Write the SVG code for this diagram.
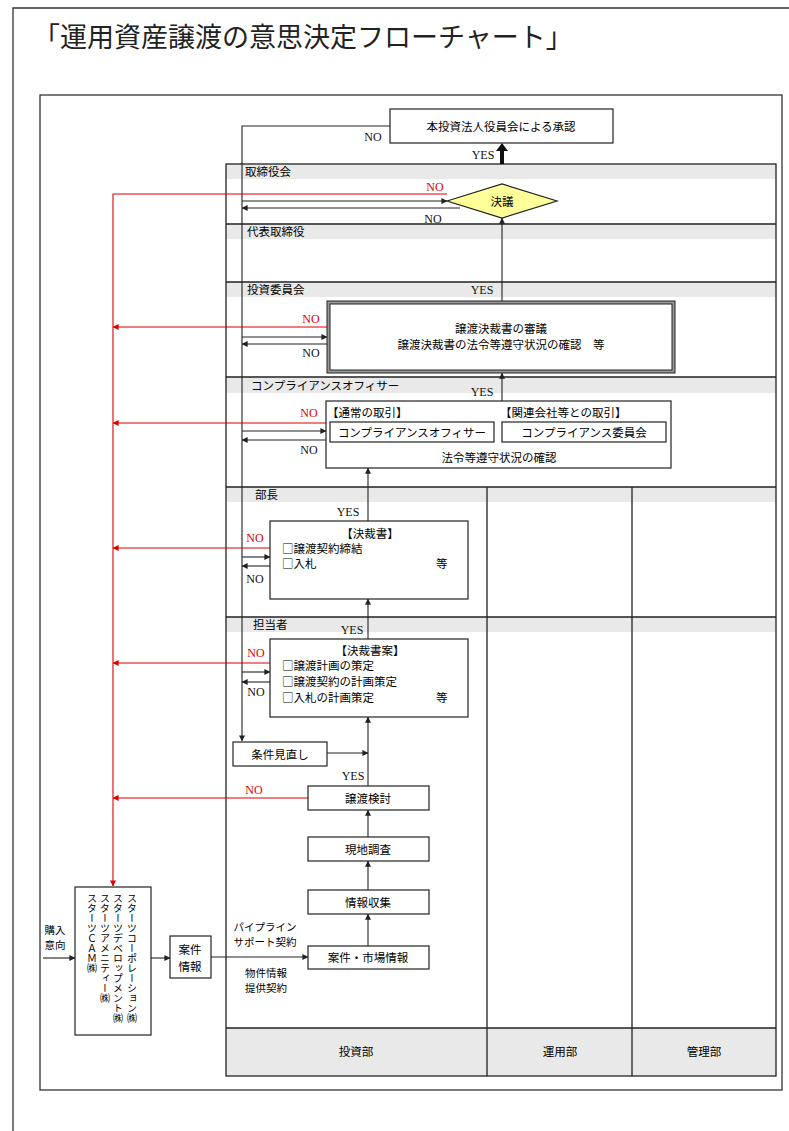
<svg xmlns="http://www.w3.org/2000/svg" width="789" height="1131" viewBox="0 0 789 1131">
<style>
.bg{fill:#fff}
.frame{fill:none;stroke:#333;stroke-width:1.3}
.band{fill:#e9e9e9}
.grid{fill:none;stroke:#222;stroke-width:1.3}
.node{fill:#fff;stroke:#222;stroke-width:1.2}
.t{font-family:"Noto Sans CJK JP","Noto Sans",sans-serif;font-size:11.5px;fill:#000}
.s{font-size:10.5px}
.c{text-anchor:middle;dominant-baseline:central}
.yn{font-family:"Liberation Serif",serif;font-size:12px;fill:#111;text-anchor:middle;dominant-baseline:central}
.rn{fill:#e00000}
.ln{fill:none;stroke:#222;stroke-width:1.1}
.red{fill:none;stroke:#e00000;stroke-width:1.1}
.vt{font-family:"Noto Sans CJK JP",sans-serif;font-size:10px;fill:#000;writing-mode:vertical-rl}
</style>
<defs>
<marker id="ab" viewBox="0 0 8 8" refX="7.5" refY="4" markerWidth="6" markerHeight="6" markerUnits="userSpaceOnUse" orient="auto"><path d="M0,0 L8,4 L0,8 z" fill="#222"/></marker>
<marker id="ar" viewBox="0 0 8 8" refX="7.5" refY="4" markerWidth="6" markerHeight="6" markerUnits="userSpaceOnUse" orient="auto"><path d="M0,0 L8,4 L0,8 z" fill="#e00000"/></marker>
</defs>
<rect class="bg" x="0" y="0" width="789" height="1131"/>
<!-- page frame -->
<path class="frame" d="M13,1131 V8 H789"/>
<text x="33" y="47" style="font-family:'Noto Sans CJK JP',sans-serif;font-size:27px;fill:#222">「運用資産譲渡の意思決定フローチャート」</text>
<rect class="frame" x="40" y="95" width="742" height="995"/>

<!-- swimlane table -->
<g id="lanes">
<rect class="band" x="226" y="164" width="550" height="15"/>
<rect class="band" x="226" y="224" width="550" height="15"/>
<rect class="band" x="226" y="282" width="550" height="15"/>
<rect class="band" x="226" y="377" width="550" height="16"/>
<rect class="band" x="226" y="487" width="550" height="15"/>
<rect class="band" x="226" y="617" width="550" height="15"/>
<rect class="band" x="226" y="1028" width="550" height="48"/>
<rect class="grid" x="226" y="164" width="550" height="912"/>
<path class="grid" d="M226,224 H776 M226,282 H776 M226,377 H776 M226,487 H776 M226,617 H776 M226,1028 H776 M487,487 V1076 M632,487 V1076"/>
<text class="t" x="245" y="176">取締役会</text>
<text class="t" x="247" y="236">代表取締役</text>
<text class="t" x="247" y="294">投資委員会</text>
<text class="t" x="251" y="390">コンプライアンスオフィサー</text>
<text class="t" x="255" y="499">部長</text>
<text class="t" x="253" y="629">担当者</text>
<text class="t c" x="356" y="1051">投資部</text>
<text class="t c" x="560" y="1051">運用部</text>
<text class="t c" x="704" y="1051">管理部</text>
</g>

<!-- connectors -->
<g id="connectors">
<polyline class="ln" points="390,126 242,126 242,741" marker-end="url(#ab)"/>
<polygon points="500,164 504,164 504,151 508,151 502,143 496,151 500,151" fill="#111"/>
<line class="ln" x1="242" y1="201" x2="447" y2="201" marker-end="url(#ab)"/>
<line class="ln" x1="460" y1="208" x2="242" y2="208" marker-end="url(#ab)"/>
<line class="ln" x1="502" y1="301" x2="502" y2="218" marker-end="url(#ab)"/>
<line class="ln" x1="242" y1="337" x2="327" y2="337" marker-end="url(#ab)"/>
<line class="ln" x1="327" y1="344" x2="242" y2="344" marker-end="url(#ab)"/>
<line class="ln" x1="502" y1="401" x2="502" y2="373" marker-end="url(#ab)"/>
<line class="ln" x1="242" y1="431" x2="326" y2="431" marker-end="url(#ab)"/>
<line class="ln" x1="326" y1="440" x2="242" y2="440" marker-end="url(#ab)"/>
<line class="ln" x1="368" y1="521" x2="368" y2="468" marker-end="url(#ab)"/>
<line class="ln" x1="242" y1="557" x2="270" y2="557" marker-end="url(#ab)"/>
<line class="ln" x1="270" y1="566" x2="242" y2="566" marker-end="url(#ab)"/>
<line class="ln" x1="368" y1="639" x2="368" y2="599" marker-end="url(#ab)"/>
<line class="ln" x1="242" y1="672" x2="270" y2="672" marker-end="url(#ab)"/>
<line class="ln" x1="270" y1="682" x2="242" y2="682" marker-end="url(#ab)"/>
<line class="ln" x1="368" y1="786" x2="368" y2="717" marker-end="url(#ab)"/>
<line class="ln" x1="327" y1="753" x2="368" y2="753" marker-end="url(#ab)"/>
<line class="ln" x1="368" y1="837" x2="368" y2="810" marker-end="url(#ab)"/>
<line class="ln" x1="368" y1="890" x2="368" y2="861" marker-end="url(#ab)"/>
<line class="ln" x1="368" y1="946" x2="368" y2="914" marker-end="url(#ab)"/>
<line class="ln" x1="211" y1="957" x2="308" y2="957" marker-end="url(#ab)"/>
<line class="ln" x1="151" y1="958" x2="170" y2="958" marker-end="url(#ab)"/>
<line class="ln" x1="43" y1="958" x2="75" y2="958" marker-end="url(#ab)"/>
<polyline class="red" points="447,194 113,194 113,886" marker-end="url(#ar)"/>
<line class="red" x1="327" y1="327" x2="113" y2="327" marker-end="url(#ar)"/>
<line class="red" x1="326" y1="423" x2="113" y2="423" marker-end="url(#ar)"/>
<line class="red" x1="270" y1="548" x2="113" y2="548" marker-end="url(#ar)"/>
<line class="red" x1="270" y1="663" x2="113" y2="663" marker-end="url(#ar)"/>
<line class="red" x1="308" y1="798" x2="113" y2="798" marker-end="url(#ar)"/>
<text class="yn" x="373" y="137">NO</text>
<text class="yn" x="483" y="155">YES</text>
<text class="yn rn" x="435" y="187">NO</text>
<text class="yn" x="433" y="219">NO</text>
<text class="yn" x="482" y="290">YES</text>
<text class="yn rn" x="311" y="319">NO</text>
<text class="yn" x="311" y="353">NO</text>
<text class="yn" x="482" y="392">YES</text>
<text class="yn rn" x="309" y="413">NO</text>
<text class="yn" x="309" y="450">NO</text>
<text class="yn" x="348" y="512">YES</text>
<text class="yn rn" x="255" y="538">NO</text>
<text class="yn" x="255" y="579">NO</text>
<text class="yn" x="352" y="630">YES</text>
<text class="yn rn" x="256" y="653">NO</text>
<text class="yn" x="256" y="692">NO</text>
<text class="yn" x="353" y="776">YES</text>
<text class="yn rn" x="254" y="790">NO</text>
</g>

<g id="n-approval">
<rect class="node" x="390" y="109" width="223" height="34"/>
<text class="t c" x="501" y="126">本投資法人役員会による承認</text>
</g>
<g id="n-decision">
<polygon points="447,201 502,184 557,201 502,218" fill="#ffff99" stroke="#222" stroke-width="1.2"/>
<text class="t c" x="502" y="201">決議</text>
</g>
<g id="n-committee">
<rect x="327" y="301" width="348" height="72" fill="#999" stroke="#222" stroke-width="1"/>
<rect x="330" y="304" width="342" height="66" fill="#fff" stroke="#222" stroke-width="1"/>
<text class="t c" x="501" y="328">譲渡決裁書の審議</text>
<text class="t c" x="501" y="344">譲渡決裁書の法令等遵守状況の確認　等</text>
</g>
<g id="n-compliance">
<rect class="node" x="326" y="401" width="345" height="67"/>
<text class="t" x="327" y="417">【通常の取引】</text>
<text class="t" x="500" y="417">【関連会社等との取引】</text>
<rect class="node" x="330" y="422" width="164" height="20"/>
<text class="t c" x="412" y="432">コンプライアンスオフィサー</text>
<rect class="node" x="502" y="422" width="164" height="20"/>
<text class="t c" x="584" y="432">コンプライアンス委員会</text>
<text class="t c" x="499" y="457">法令等遵守状況の確認</text>
</g>
<g id="n-bucho">
<rect class="node" x="270" y="521" width="198" height="78"/>
<text class="t c" x="370" y="533">【決裁書】</text>
<text class="t" x="282" y="553">□譲渡契約締結</text>
<text class="t" x="282" y="568">□入札</text>
<text class="t" x="436" y="568">等</text>
</g>
<g id="n-tanto">
<rect class="node" x="270" y="639" width="198" height="78"/>
<text class="t c" x="370" y="650">【決裁書案】</text>
<text class="t" x="282" y="670">□譲渡計画の策定</text>
<text class="t" x="282" y="686">□譲渡契約の計画策定</text>
<text class="t" x="282" y="702">□入札の計画策定</text>
<text class="t" x="436" y="702">等</text>
</g>
<g id="n-review">
<rect class="node" x="233" y="742" width="94" height="24"/>
<text class="t c" x="280" y="754">条件見直し</text>
</g>
<g id="n-study">
<rect class="node" x="308" y="786" width="121" height="24"/>
<text class="t c" x="368" y="798">譲渡検討</text>
</g>
<g id="n-survey">
<rect class="node" x="308" y="837" width="121" height="24"/>
<text class="t c" x="368" y="849">現地調査</text>
</g>
<g id="n-collect">
<rect class="node" x="308" y="890" width="121" height="24"/>
<text class="t c" x="368" y="902">情報収集</text>
</g>
<g id="n-market">
<rect class="node" x="308" y="946" width="121" height="23"/>
<text class="t c" x="368" y="957">案件・市場情報</text>
</g>
<g id="n-info">
<rect class="node" x="170" y="936" width="41" height="42"/>
<text class="t c" x="190" y="949">案件</text>
<text class="t c" x="190" y="966">情報</text>
</g>
<g id="n-starts">
<rect class="node" x="75" y="887" width="76" height="148"/>
<text class="vt" x="132" y="893">スターツコーポレーション㈱</text>
<text class="vt" x="118" y="893">スターツデベロップメント㈱</text>
<text class="vt" x="105" y="893">スターツアメニティー㈱</text>
<text class="vt" x="92" y="893">スターツＣＡＭ㈱</text>
</g>
<g id="labels">
<text class="t s c" x="55" y="929">購入</text>
<text class="t s c" x="55" y="944">意向</text>
<text class="t s c" x="265" y="926">パイプライン</text>
<text class="t s c" x="265" y="941">サポート契約</text>
<text class="t s c" x="266" y="972">物件情報</text>
<text class="t s c" x="266" y="987">提供契約</text>
</g>
</svg>
